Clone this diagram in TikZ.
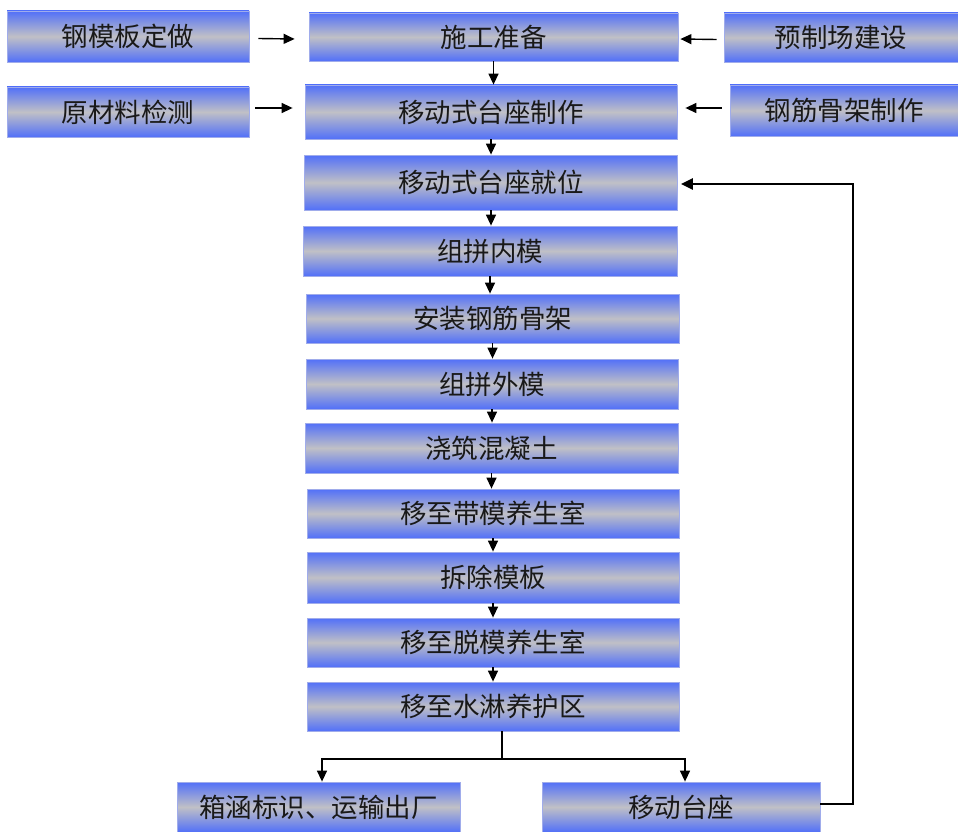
\documentclass[tikz,border=0pt]{standalone}
\usepackage{fontspec}
\setmainfont{Noto Sans CJK SC}
\usetikzlibrary{arrows.meta}
\definecolor{boxblue}{RGB}{82,112,248}
\definecolor{boxgray}{RGB}{192,192,198}
\definecolor{boxline}{RGB}{160,172,235}
\definecolor{txt}{RGB}{25,25,25}
\tikzset{
  box/.style={rectangle, draw=boxline, line width=0.8pt, top color=boxblue,
    bottom color=boxblue, middle color=boxgray, inner sep=0pt,
    font=\fontsize{26.5}{29}\selectfont, text=txt},
  arr/.style={-{Triangle[length=11pt,width=10pt]}, line width=1.4pt, black},
  link/.style={line width=1.4pt, black},
}
\begin{document}
\begin{tikzpicture}[x=1pt,y=-1pt]
\useasboundingbox (0,0) rectangle (958,832);
% left column
\node[box, minimum width=242pt, minimum height=51pt] (a1) at (128,36.5) {钢模板定做};
\node[box, minimum width=242pt, minimum height=50pt] (a2) at (128,112) {原材料检测};
% right column
\node[box, minimum width=234pt, minimum height=49pt] (c1) at (841,37.5) {预制场建设};
\node[box, minimum width=228pt, minimum height=51pt] (c2) at (844,110.5) {钢筋骨架制作};
% main column
\node[box, minimum width=369pt, minimum height=48pt] (b1) at (493.5,37) {施工准备};
\node[box, minimum width=372pt, minimum height=54pt] (b2) at (491,112) {移动式台座制作};
\node[box, minimum width=373pt, minimum height=55pt] (b3) at (491,182.5) {移动式台座就位};
\node[box, minimum width=374pt, minimum height=50pt] (b4) at (490,251) {组拼内模};
\node[box, minimum width=373pt, minimum height=49pt] (b5) at (492.5,318.5) {安装钢筋骨架};
\node[box, minimum width=372pt, minimum height=50pt] (b6) at (492,384) {组拼外模};
\node[box, minimum width=373pt, minimum height=50pt] (b7) at (491.5,448) {浇筑混凝土};
\node[box, minimum width=372pt, minimum height=49pt] (b8) at (493,513.5) {移至带模养生室};
\node[box, minimum width=372pt, minimum height=51pt] (b9) at (493,577.5) {拆除模板};
\node[box, minimum width=372pt, minimum height=49pt] (b10) at (493,642.5) {移至脱模养生室};
\node[box, minimum width=372pt, minimum height=49pt] (b11) at (493,706.5) {移至水淋养护区};
% bottom
\node[box, minimum width=283pt, minimum height=50pt] (d1) at (318.5,807) {箱涵标识、运输出厂};
\node[box, minimum width=278pt, minimum height=50pt] (d2) at (681,807) {移动台座};
% side arrows
\draw[arr] ([xshift=9pt,yshift=-2pt]a1.east) -- ([xshift=-14pt,yshift=-2pt]b1.west);
\draw[arr] ([xshift=-7pt,yshift=-2pt]c1.west) -- ([xshift=2pt,yshift=-2pt]b1.east);
\draw[arr] ([xshift=6pt,yshift=4pt]a2.east) -- ([xshift=-12pt,yshift=4pt]b2.west);
\draw[arr] ([xshift=-8pt,yshift=2.5pt]c2.west) -- ([xshift=8pt,yshift=4pt]b2.east);
% main chain
\foreach \u/\v in {b1/b2,b2/b3,b3/b4,b4/b5,b5/b6,b6/b7,b7/b8,b8/b9,b9/b10,b10/b11}
  \draw[arr] (\u.south) -- (\u.south |- \v.north);
% split
\coordinate (t) at (502,731);
\coordinate (s) at (502,759);
\draw[link] (t) -- (s);
\draw[arr] (s) -| ([xshift=3.5pt]d1.north);
\draw[arr] (s) -| ([xshift=4pt]d2.north);
% feedback
\coordinate (fb) at (853,807);
\draw[arr, line width=2.6pt, -{Triangle[length=12pt,width=11pt]}] ([yshift=3pt]d2.east) -- ([yshift=3pt]fb) |- ([xshift=3pt,yshift=-1.5pt]b3.east);
\end{tikzpicture}
\end{document}
